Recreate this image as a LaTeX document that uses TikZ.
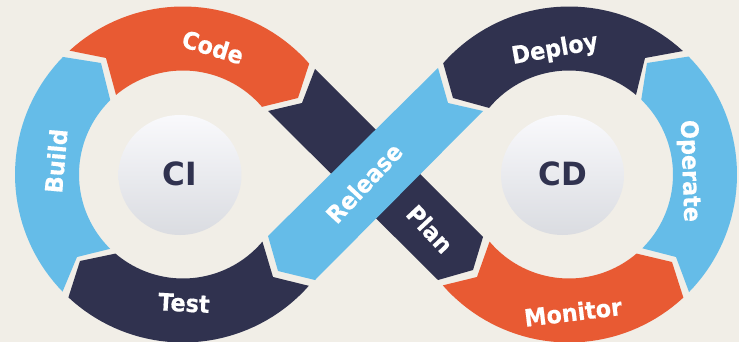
\documentclass[tikz,border=0pt]{standalone}
\usepackage{fontspec}
\setmainfont{DejaVu Sans}
\newfontfamily\labelface[FakeStretch=0.93,BoldFeatures={FakeBold=0.4}]{DejaVu Sans}
\newfontfamily\hubface[FakeStretch=0.97]{DejaVu Sans}
\definecolor{bgc}{HTML}{F1EEE7}
\definecolor{orangec}{HTML}{E85A33}
\definecolor{bluec}{HTML}{65BCE8}
\definecolor{darkc}{HTML}{30324F}
\definecolor{hubtop}{HTML}{F9F9FC}
\definecolor{hubbot}{HTML}{DADCE1}
\usetikzlibrary{shapes.geometric}
\tikzset{
  seglabel/.style={text=white,font=\labelface\bfseries\fontsize{24}{24}\selectfont,inner sep=0pt},
  hub/.style={ellipse,minimum width=123pt,minimum height=120pt,inner sep=0pt,top color=hubtop,bottom color=hubbot,
    text=darkc,font=\hubface\bfseries\fontsize{32}{32}\selectfont},
}
\begin{document}
\begin{tikzpicture}[x=1pt,y=-1pt,samples=40]
\fill[bgc] (0,0) rectangle (739,342);
\useasboundingbox (0,0) rectangle (739,342);
% diagonal strips
\fill[darkc] (268,111) -- (302,103) -- (315,69) -- (483,237) -- (473,270) -- (438,280) -- cycle;
\fill[bluec] (268,236) -- (278,271) -- (315,280) -- (483,111) -- (448,103) -- (438,68) -- cycle;
% left loop
\fill[orangec] plot[domain=227.5:318.7] ({183+168*cos(\x)},{174.5+168*sin(\x)}) -- (298,98) -- plot[domain=319.4:229.9] ({183+104*cos(\x)},{174.5+104*sin(\x)}) -- (106,58) -- cycle;
\fill[bluec] plot[domain=224.4:135.8] ({183+168*cos(\x)},{174.5+168*sin(\x)}) -- (77,257) -- plot[domain=134.4:225.6] ({183+104*cos(\x)},{174.5+104*sin(\x)}) -- (101,63) -- cycle;
\fill[darkc] plot[domain=133:41.5] ({183+168*cos(\x)},{174.5+168*sin(\x)}) -- (273,277) -- plot[domain=40.2:130.5] ({183+104*cos(\x)},{174.5+104*sin(\x)}) -- (80,261) -- cycle;
% right loop
\fill[darkc] plot[domain=221.5:312.7] ({569+168*cos(\x)},{174.5+168*sin(\x)}) -- (645,58) -- plot[domain=310.1:219.8] ({569+104*cos(\x)},{174.5+104*sin(\x)}) -- (453,98) -- cycle;
\fill[bluec] plot[domain=-44.6:44.4] ({569+168*cos(\x)},{174.5+168*sin(\x)}) -- (676,257) -- plot[domain=45.2:-46] ({569+104*cos(\x)},{174.5+104*sin(\x)}) -- (647,63) -- cycle;
\fill[orangec] plot[domain=138.7:47.1] ({569+168*cos(\x)},{174.5+168*sin(\x)}) -- (672,262) -- plot[domain=49.5:139.8] ({569+104*cos(\x)},{174.5+104*sin(\x)}) -- (477,277) -- cycle;
% hubs
\node[hub] (ci) at (180,175) {\raisebox{2.5pt}{CI}};
\node[hub] (cd) at (562.5,175) {\raisebox{2.5pt}{CD}};
% labels
\node[seglabel,rotate=-17] (code) at (213,47) {Code};
\node[seglabel,rotate=85] (build) at (56,161) {Build};
\node[seglabel,rotate=-3] (test) at (184,303) {Test};
\node[seglabel,rotate=10] (deploy) at (555,50) {Deploy};
\node[seglabel,rotate=-88] (operate) at (689,171) {Operate};
\node[seglabel,rotate=7] (monitor) at (573,312) {Monitor};
\node[seglabel,rotate=47] (release) at (364,183) {Release};
\node[seglabel,rotate=-47] (plan) at (430,229) {Plan};
\end{tikzpicture}
\end{document}
